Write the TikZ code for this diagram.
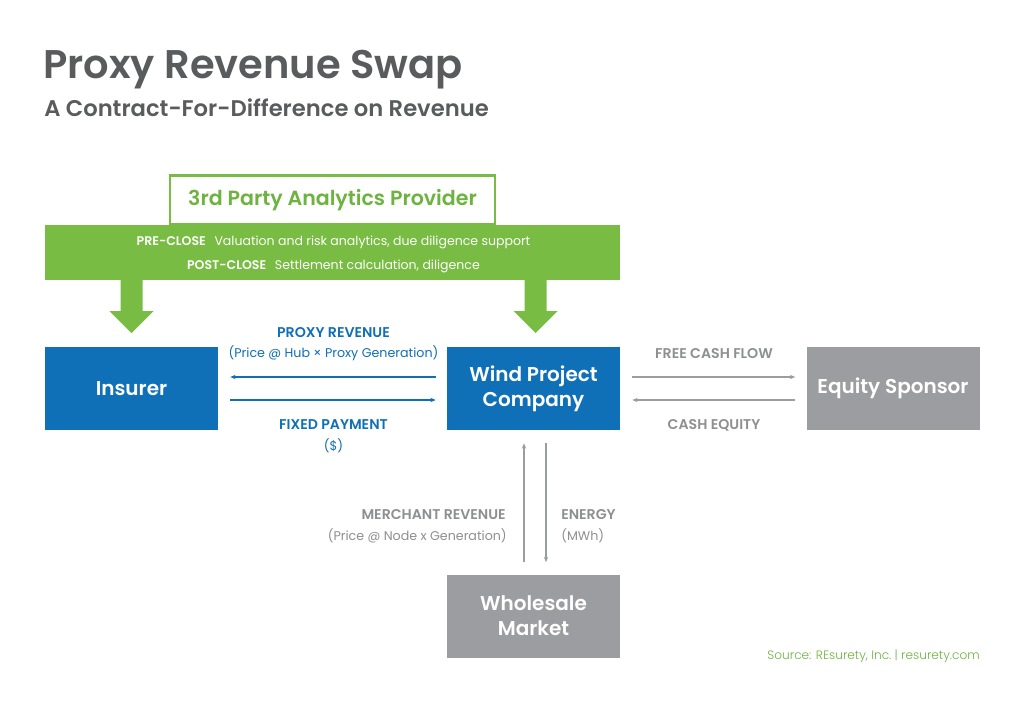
\documentclass[tikz,border=0pt]{standalone}
\usepackage{fontspec}
\setmainfont{Poppins}[BoldFont={Poppins SemiBold}]
\newfontfamily\plight{Poppins Light}
\usetikzlibrary{calc,arrows.meta}
\definecolor{cblue}{HTML}{0F6FB7}
\definecolor{cgreen}{HTML}{78BC43}
\definecolor{cgreentxt}{HTML}{6DB33F}
\definecolor{cgraybox}{HTML}{9C9DA0}
\definecolor{ctitle}{HTML}{5A5B5D}
\definecolor{clabel}{HTML}{8E8F91}
\tikzset{
  party/.style={rectangle, minimum width=129.75pt, minimum height=62.25pt, inner sep=0pt,
    text=white, font=\bfseries\fontsize{15}{19}\selectfont, align=center},
  bluebox/.style={party, fill=cblue},
  graybox/.style={party, fill=cgraybox},
  bluearrow/.style={draw=cblue, line width=0.8pt, -{Stealth[length=4pt,width=3.2pt]}},
  grayarrow/.style={draw=cgraybox, line width=0.8pt, -{Stealth[length=4pt,width=3.2pt]}},
  lblbold/.style={font=\bfseries\fontsize{10.6}{12}\selectfont, inner sep=0pt},
  lblplain/.style={font=\fontsize{9.5}{11}\selectfont, inner sep=0pt},
  greenarrow/.style={fill=cgreen}
}
\begin{document}
\begin{tikzpicture}[x=0.75pt,y=-0.75pt]
\useasboundingbox[fill=white] (0,0) rectangle (1024,703);
% titles
\node[anchor=base west, inner sep=0pt, text=ctitle, font=\bfseries\fontsize{30}{36}\selectfont] (title) at (43,78) {Proxy Revenue Swap};
\node[anchor=base west, inner sep=0pt, text=ctitle, font=\bfseries\fontsize{17}{20}\selectfont] (subtitle) at (44,116) {A Contract-For-Difference on Revenue};
% analytics provider
\node[rectangle, draw=cgreen, line width=2pt, fill=white, minimum width=243.75pt, minimum height=36.75pt, inner sep=0pt,
  text=cgreentxt, font=\bfseries\fontsize{15.4}{18}\selectfont] (provider) at (332.5,200) {3rd Party Analytics Provider};
\node[rectangle, fill=cgreen, minimum width=431.25pt, minimum height=41.25pt, inner sep=0pt] (band) at (332.5,252.5) {};
\node[text=white, font=\fontsize{9.4}{11}\selectfont, inner sep=0pt, anchor=base] (pre) at (333.5,245.5) {\textbf{PRE-CLOSE}\hspace{4pt} Valuation and risk analytics, due diligence support};
\node[text=white, font=\fontsize{9.4}{11}\selectfont, inner sep=0pt, anchor=base] (post) at (333.5,269.5) {\textbf{POST-CLOSE}\hspace{4pt} Settlement calculation, diligence};
% green arrows
\fill[greenarrow] (120.5,279) -- (142.5,279) -- (142.5,311) -- (153.5,311) -- (131.5,333) -- (109.5,311) -- (120.5,311) -- cycle;
\fill[greenarrow] (524.5,279) -- (546.5,279) -- (546.5,311) -- (557.5,311) -- (535.5,333) -- (513.5,311) -- (524.5,311) -- cycle;
% parties
\node[bluebox] (insurer) at (131.5,388.5) {Insurer};
\node[bluebox] (wind) at (533.5,388.5) {Wind Project\\Company};
\node[graybox] (equity) at (893,388.5) {Equity Sponsor};
\node[graybox] (wholesale) at (533.5,616) {Wholesale\\Market};
% blue arrows
\draw[bluearrow] ($(wind.west)+(-11,-11.5)$) -- ($(insurer.east)+(12,-11.5)$);
\draw[bluearrow] ($(insurer.east)+(12,11.5)$) -- ($(wind.west)+(-11,11.5)$);
\node[lblbold, text=cblue, anchor=base] (proxyrev) at (333.5,337) {PROXY REVENUE};
\node[lblplain, text=cblue, anchor=base] (proxyform) at (333.5,357.5) {(Price @ Hub × Proxy Generation)};
\node[lblbold, text=cblue, anchor=base] (fixed) at (333.5,429) {FIXED PAYMENT};
\node[lblplain, text=cblue, anchor=base] (dollar) at (333.5,450) {(\$)};
% gray horizontal arrows
\draw[grayarrow] ($(wind.east)+(12,-11.5)$) -- ($(equity.west)+(-11,-11.5)$);
\draw[grayarrow] ($(equity.west)+(-11,11.5)$) -- ($(wind.east)+(12,11.5)$);
\node[lblbold, text=clabel, anchor=base] (fcf) at (714,358) {FREE CASH FLOW};
\node[lblbold, text=clabel, anchor=base] (ceq) at (714,429) {CASH EQUITY};
% vertical arrows
\draw[grayarrow] ($(wholesale.north)+(-9.5,-12)$) -- ($(wind.south)+(-9.5,13)$);
\draw[grayarrow] ($(wind.south)+(12.5,13)$) -- ($(wholesale.north)+(12.5,-12)$);
\node[lblbold, text=clabel, anchor=base east] (merch) at (506,519.5) {MERCHANT REVENUE};
\node[lblplain, text=clabel, anchor=base east] (merchform) at (507,540.5) {(Price @ Node x Generation)};
\node[lblbold, text=clabel, anchor=base west] (energy) at (561,519.5) {ENERGY};
\node[lblplain, text=clabel, anchor=base west] (mwh) at (561,540.5) {(MWh)};
% source
\node[anchor=base east, inner sep=0pt, text=cgreentxt, font=\plight\fontsize{9.1}{11}\selectfont] (source) at (980,659) {Source: REsurety, Inc.\ | resurety.com};
\end{tikzpicture}
\end{document}
